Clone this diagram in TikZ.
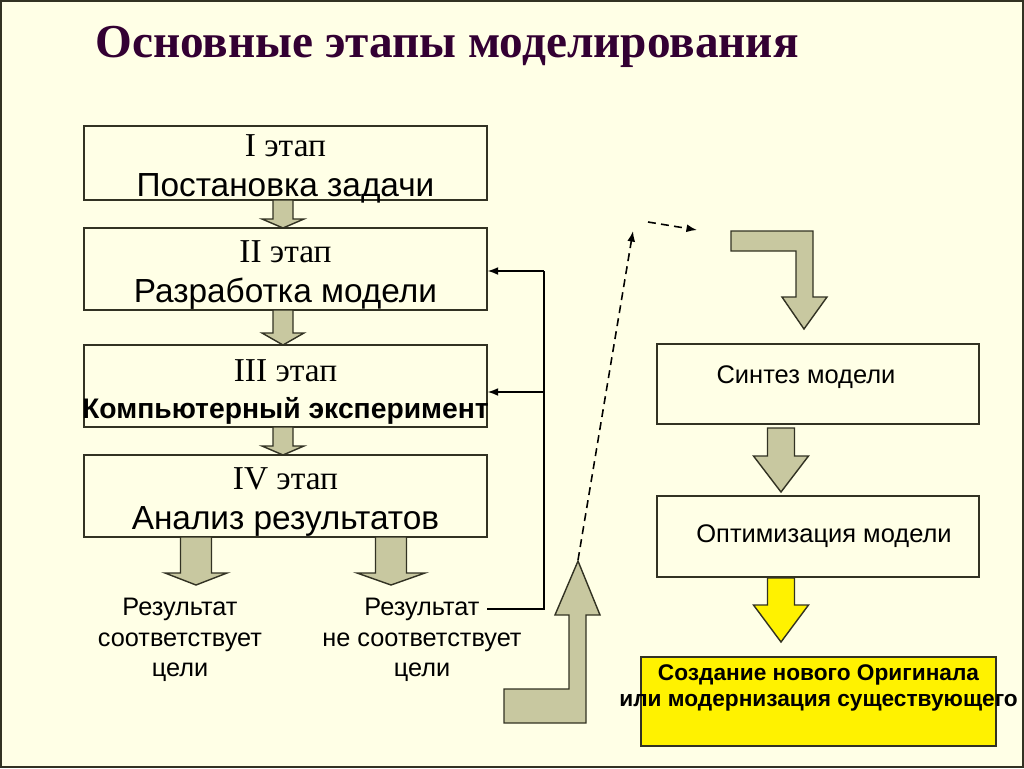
\documentclass[tikz,border=0pt]{standalone}
\usepackage{fontspec}
\setmainfont{Liberation Serif}
\setsansfont{Liberation Sans}
\usepackage{xcolor}
\usepackage{tikz}
\usetikzlibrary{arrows.meta}

\definecolor{bgcream}{RGB}{255,255,230}
\definecolor{khaki}{RGB}{200,200,160}
\definecolor{edge}{RGB}{50,50,35}
\definecolor{titlecol}{RGB}{51,0,51}

% block arrow pointing down: fill, x, top, head base, tip, half shaft, half head
\newcommand{\blockdown}[7]{%
	\draw[blockarrow, fill=#1] (#2-#6,#3) -- (#2+#6,#3) -- (#2+#6,#4) -- (#2+#7,#4)
		-- (#2,#5) -- (#2-#7,#4) -- (#2-#6,#4) -- cycle;}

\tikzset{
	stagebox/.style={draw=edge, line width=0.8pt, fill=bgcream, minimum width=8.06cm, minimum height=1.64cm},
	stagetext/.style={align=center, yshift=-0.12cm, font=\fontsize{19}{22.7}\selectfont},
	modelbox/.style={draw=edge, line width=0.8pt, fill=bgcream, minimum width=6.44cm, minimum height=1.6cm},
	modeltext/.style={font=\sffamily\fontsize{14.5}{17}\selectfont},
	blockarrow/.style={draw=edge, line width=0.8pt},
	outcome/.style={align=center, font=\sffamily\fontsize{14.4}{17.3}\selectfont},
	fbarrow/.style={draw=black, line width=0.8pt, -{Latex[length=6pt,width=4.5pt]}},
	hint/.style={draw=black, line width=0.9pt, dash pattern=on 4.5pt off 3pt, -{Latex[length=6pt,width=4.5pt]}}
}

\begin{document}
\begin{tikzpicture}[x=0.02cm, y=-0.02cm]
	\useasboundingbox (0,0) rectangle (1024,768);
	\fill[bgcream] (0,0) rectangle (1024,768);
	\draw[edge, line width=1.2pt] (1,1) rectangle (1023,767);

	\node[anchor=base, text=titlecol, font=\bfseries\fontsize{26.9}{32}\selectfont] (title) at (447,57) {Основные этапы моделирования};

	% stages
	\node[stagebox, minimum height=1.48cm, label={[stagetext]center:I этап\\\sffamily Постановка задачи}] (b1) at (285.5,163) {};
	\node[stagebox, label={[stagetext]center:II этап\\\sffamily Разработка модели}] (b2) at (285.5,269) {};
	\node[stagebox, label={[stagetext, font=\fontsize{19}{21}\selectfont]center:III этап\\\sffamily\bfseries\fontsize{16.1}{21}\selectfont Компьютерный эксперимент}] (b3) at (285.5,386) {};
	\node[stagebox, label={[stagetext]center:IV этап\\\sffamily Анализ результатов}] (b4) at (285.5,496) {};

	\blockdown{khaki}{283}{200}{219}{228}{10}{21}
	\blockdown{khaki}{283}{310}{333}{345}{10}{21}
	\blockdown{khaki}{283}{427}{446}{455}{10}{21}
	\blockdown{khaki}{196}{537}{573}{585}{15.5}{31}
	\blockdown{khaki}{391}{537}{573}{585}{15.5}{34}

	\node[outcome] (yes) at (180,640) {Результат\\соответствует\\цели};
	\node[outcome] (no) at (422,640) {Результат\\не соответствует\\цели};

	% return to stages II and III
	\coordinate (fbstart) at (487,609);
	\coordinate (fbcorner) at (544,609);
	\coordinate (fb2) at (544,271);
	\coordinate (fb3) at (544,392);
	\draw[line width=0.8pt] (fbstart) -- (fbcorner) -- (fb2);
	\draw[fbarrow] (fb2) -- (b2.east |- fb2);
	\draw[fbarrow] (fb3) -- (b3.east |- fb3);

	% L-shaped arrows
	\draw[blockarrow, fill=khaki] (504,689) -- (569,689) -- (569,615) -- (555,615) -- (578,561)
		-- (600,615) -- (586,615) -- (586,723) -- (504,723) -- cycle;
	\draw[blockarrow, fill=khaki] (731,231) -- (813,231) -- (813,297) -- (827,297) -- (804,329)
		-- (782,297) -- (796,297) -- (796,251) -- (731,251) -- cycle;

	\coordinate (d1) at (578,560);
	\coordinate (d2) at (633,231);
	\coordinate (d3) at (648,222);
	\coordinate (d4) at (697,230);
	\draw[hint] (d1) -- (d2);
	\draw[hint] (d3) -- (d4);

	% new model
	\node[modelbox, label={[modeltext, xshift=-0.24cm, yshift=0.14cm]center:Синтез модели}] (synth) at (818,384) {};
	\node[modelbox, minimum height=1.62cm, label={[modeltext, xshift=0.12cm]center:Оптимизация модели}] (optim) at (818,536.5) {};
	\blockdown{khaki}{781}{428}{456}{492}{13.5}{27.5}
	\blockdown{yellow}{781}{578}{605}{642}{13.5}{27.5}

	\node[draw=edge, line width=0.8pt, fill=yellow, minimum width=7.1cm, minimum height=1.78cm] (orig) at (818.5,701.5) {};
	\node[align=center, font=\sffamily\bfseries\fontsize{12.9}{14.7}\selectfont] (origtext) at (818.5,688) {Создание нового Оригинала\\или модернизация существующего};
\end{tikzpicture}
\end{document}
